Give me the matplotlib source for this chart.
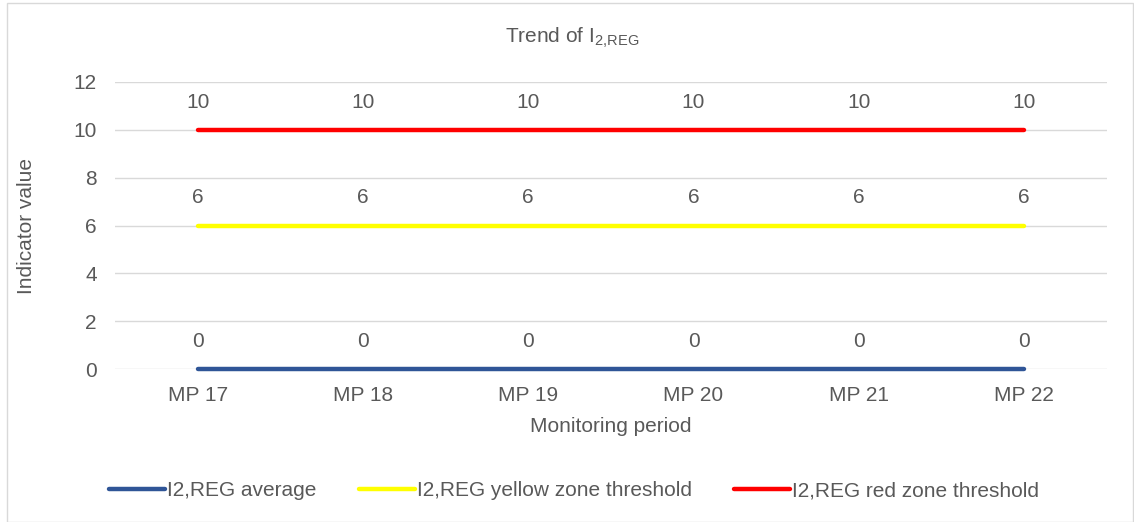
import numpy as np
import matplotlib.pyplot as plt
from matplotlib.patches import Rectangle

plt.rcParams['font.family'] = ['Liberation Sans', 'DejaVu Sans']

# Data
periods = ["MP 17", "MP 18", "MP 19", "MP 20", "MP 21", "MP 22"]
avg = [0, 0, 0, 0, 0, 0]
yellow = [6, 6, 6, 6, 6, 6]
red = [10, 10, 10, 10, 10, 10]

txt = '#595959'
fs = 15
fig = plt.figure(figsize=(11.34, 5.22), dpi=100)
ax = fig.add_axes([0.1014, 0.293, 0.8746, 0.550])

x = np.arange(len(periods))
series = [
    (avg, '#2F5597', 'I2,REG average'),
    (yellow, '#FFFF00', 'I2,REG yellow zone threshold'),
    (red, '#FF0000', 'I2,REG red zone threshold'),
]
for vals, col, lab in series:
    ax.plot(x, vals, color=col, lw=3.2, solid_capstyle='round', label=lab,
            zorder=3, clip_on=False)
    for xi, v in zip(x, vals):
        ax.annotate(str(v), (xi, v), xytext=(0, 20), textcoords='offset points',
                    ha='center', va='center', fontsize=fs, color=txt)

ax.set_xlim(-0.5, len(periods) - 0.5)
ax.set_ylim(0, 12)
ax.set_yticks(range(0, 13, 2))
ax.set_xticks(x)
ax.set_xticklabels(periods)
ax.grid(axis='y', color='#d9d9d9', lw=1)
ax.set_axisbelow(True)
for s in ax.spines.values():
    s.set_visible(False)
ax.tick_params(length=0, labelsize=fs, colors=txt)
ax.tick_params(axis='x', pad=12)
ax.tick_params(axis='y', pad=13)
ax.set_xlabel('Monitoring period', fontsize=fs, color=txt, labelpad=9)
ax.set_ylabel('Indicator value', fontsize=fs, color=txt, labelpad=27)

# title is centred on the whole chart box, not on the plot area
fig.text(572 / 1134, 1 - 38 / 522, r'Trend of I$_{\mathregular{2{,}REG}}$',
         fontsize=15, color=txt, ha='center', va='center')

fig.legend(*ax.get_legend_handles_labels(), loc='center',
           bbox_to_anchor=(574 / 1134, 1 - 491 / 522), ncol=3, frameon=False,
           fontsize=fs, labelcolor=txt, handlelength=2.7, handletextpad=0.1,
           columnspacing=2.0)

fig.patches.append(Rectangle((7 / 1134, 0), 1 - 8 / 1134, 1 - 3 / 522,
                             transform=fig.transFigure, fill=False,
                             ec='#d9d9d9', lw=1))

fig.savefig('out.png', dpi=100)
